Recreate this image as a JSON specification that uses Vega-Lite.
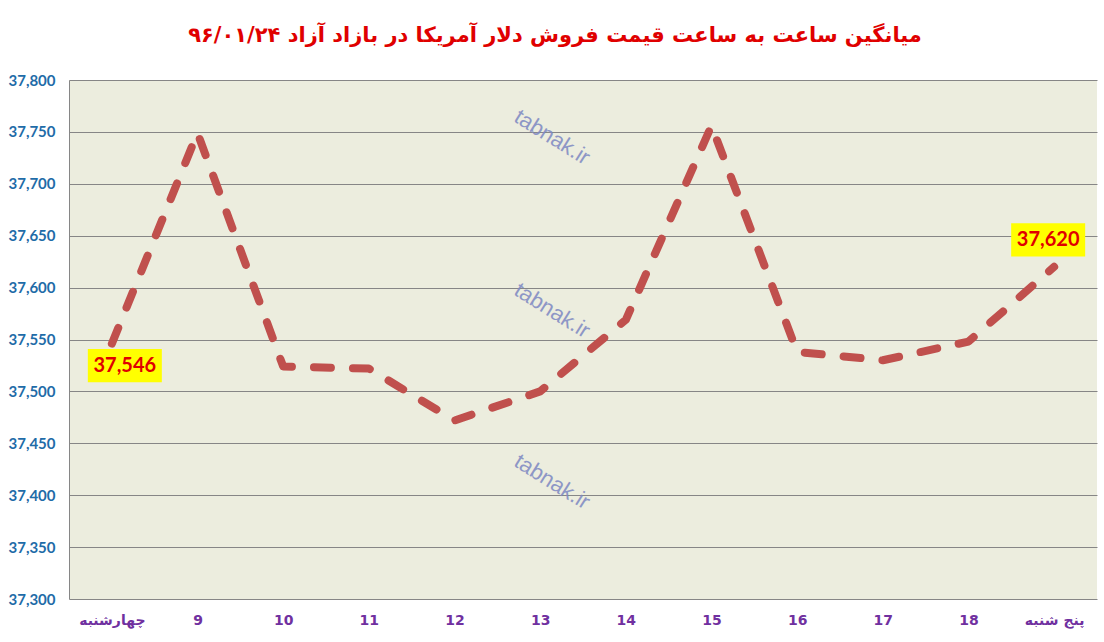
{
  "$schema": "https://vega.github.io/schema/vega-lite/v6.json",
  "width": 1028,
  "height": 519,
  "autosize": "none",
  "padding": {"left": 69, "top": 80, "right": 7, "bottom": 43},
  "background": "white",
  "title": {
    "text": "میانگین ساعت به ساعت قیمت فروش دلار آمریکا در بازاد آزاد ۹۶/۰۱/۲۴",
    "font": "DejaVu Sans",
    "fontSize": 21,
    "fontWeight": "bold",
    "color": "#e00000",
    "anchor": "middle",
    "dx": -28,
    "offset": 27
  },
  "datasets": {
    "prices": [
      {"hour": "چهارشنبه", "price": 37546},
      {"hour": "9", "price": 37749},
      {"hour": "10", "price": 37524},
      {"hour": "11", "price": 37522},
      {"hour": "12", "price": 37472},
      {"hour": "13", "price": 37500},
      {"hour": "14", "price": 37569},
      {"hour": "15", "price": 37756},
      {"hour": "16", "price": 37538},
      {"hour": "17", "price": 37530},
      {"hour": "18", "price": 37548},
      {"hour": "پنج شنبه", "price": 37620}
    ],
    "marks": [
      {"hour": "13", "price": 37745},
      {"hour": "13", "price": 37578},
      {"hour": "13", "price": 37413}
    ]
  },
  "data": {"name": "prices"},
  "encoding": {
    "x": {
      "field": "hour",
      "type": "nominal",
      "sort": null,
      "scale": {
        "type": "point",
        "padding": 0.5,
        "domain": ["چهارشنبه", "9", "10", "11", "12", "13", "14", "15", "16", "17", "18", "پنج شنبه"]
      },
      "axis": {
        "title": null,
        "ticks": false,
        "domain": false,
        "labelAngle": 0,
        "labelPadding": 14,
        "labelFont": "DejaVu Sans",
        "labelFontSize": 14,
        "labelFontWeight": "bold",
        "labelColor": "#7030a0"
      }
    },
    "y": {
      "field": "price",
      "type": "quantitative",
      "scale": {"domain": [37300, 37800], "nice": false, "zero": false},
      "axis": {
        "title": null,
        "values": [37300, 37350, 37400, 37450, 37500, 37550, 37600, 37650, 37700, 37750, 37800],
        "format": ",d",
        "ticks": false,
        "domain": true,
        "domainColor": "#868686",
        "gridColor": "#868686",
        "gridWidth": 1,
        "labelPadding": 14,
        "labelFont": "Lato",
        "labelFontSize": 15,
        "labelFontWeight": "bold",
        "labelColor": "#1f6ca8"
      }
    }
  },
  "layer": [
    {
      "data": {"name": "marks"},
      "mark": {
        "type": "text",
        "text": "tabnak.ir",
        "font": "Liberation Sans",
        "fontSize": 22,
        "angle": 32,
        "color": "#7d88c2",
        "opacity": 0.85,
        "xOffset": 12
      }
    },
    {
      "mark": {
        "type": "line",
        "color": "#c0504d",
        "strokeWidth": 8,
        "strokeDash": [17, 22],
        "strokeCap": "round",
        "strokeJoin": "round"
      }
    },
    {
      "transform": [{"filter": "datum.hour == 'چهارشنبه'"}],
      "layer": [
        {
          "mark": {
            "type": "point",
            "shape": "M-1,-0.45L1,-0.45L1,0.45L-1,0.45Z",
            "size": 5476,
            "filled": true,
            "color": "#ffff00",
            "opacity": 1,
            "strokeWidth": 0,
            "xOffset": 13,
            "yOffset": 22
          }
        },
        {
          "mark": {
            "type": "text",
            "font": "Lato",
            "fontSize": 20,
            "fontWeight": "bold",
            "color": "#e00000",
            "xOffset": 13,
            "yOffset": 22
          },
          "encoding": {
            "text": {"field": "price", "type": "quantitative", "format": ",d"}
          }
        }
      ]
    },
    {
      "transform": [{"filter": "datum.hour == 'پنج شنبه'"}],
      "layer": [
        {
          "mark": {
            "type": "point",
            "shape": "M-1,-0.45L1,-0.45L1,0.45L-1,0.45Z",
            "size": 5476,
            "filled": true,
            "color": "#ffff00",
            "opacity": 1,
            "strokeWidth": 0,
            "xOffset": -6,
            "yOffset": -27
          }
        },
        {
          "mark": {
            "type": "text",
            "font": "Lato",
            "fontSize": 20,
            "fontWeight": "bold",
            "color": "#e00000",
            "xOffset": -6,
            "yOffset": -27
          },
          "encoding": {
            "text": {"field": "price", "type": "quantitative", "format": ",d"}
          }
        }
      ]
    }
  ],
  "config": {
    "view": {"fill": "#ecedde", "stroke": null}
  }
}
